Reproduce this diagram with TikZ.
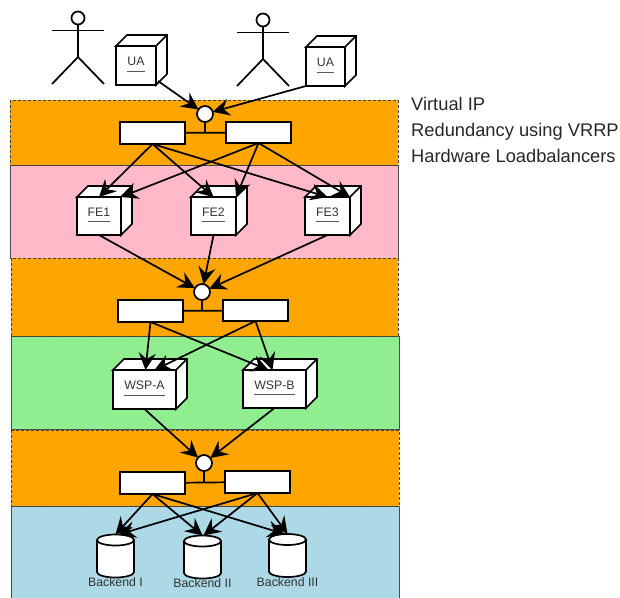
\documentclass[tikz,border=0pt]{standalone}
\usepackage{fontspec}
\setmainfont{Liberation Sans}
\usetikzlibrary{arrows.meta}
\definecolor{bandorange}{RGB}{255,165,0}
\definecolor{bandpink}{RGB}{255,185,200}
\definecolor{bandgreen}{RGB}{144,238,144}
\definecolor{bandblue}{RGB}{173,216,230}
\tikzset{
	solidband/.style={draw=black!70, line width=0.7pt},
	dashband/.style={draw=black!75, line width=0.8pt, dash pattern=on 3pt off 2pt},
	outline/.style={draw=black, line width=1.7pt, fill=white, line join=miter},
	flowbox/.style={outline, rectangle, inner sep=0pt, outer sep=0pt},
	vipdot/.style={outline, circle, inner sep=0pt, outer sep=0pt, minimum size=16pt},
	backenddb/.style={rectangle, inner sep=0pt, outer sep=0pt, minimum width=37pt, minimum height=43pt},
	link/.style={draw=black, line width=1.7pt},
	flow/.style={link, -{Stealth[length=17pt, width=17pt, inset=6pt]}},
	boxlabel/.style={font=\fontsize{12.3pt}{14pt}\selectfont, text=black!80, inner sep=0pt, anchor=base},
	sidenote/.style={font=\fontsize{18.3pt}{20pt}\selectfont, text=black!85, inner sep=0pt, anchor=base west},
}
\begin{document}
\begin{tikzpicture}[x=1pt, y=-1pt]
	\useasboundingbox (0,0) rectangle (620,597);
	% bands
	\draw[solidband, fill=bandpink] (10,165) rectangle (398,258);
	\draw[solidband, fill=bandgreen] (11,336) rectangle (399,429);
	\draw[solidband, fill=bandblue] (11,506) rectangle (399,600);
	\draw[dashband, fill=bandorange] (10,100) rectangle (398,165);
	\draw[dashband, fill=bandorange] (11,258) rectangle (398,336);
	\draw[dashband, fill=bandorange] (11,430) rectangle (399,506);
	% side text
	\node[sidenote] (noteone) at (411,110) {Virtual IP};
	\node[sidenote] (notetwo) at (411,136) {Redundancy using VRRP};
	\node[sidenote] (notethree) at (411,162) {Hardware Loadbalancers};
	% actors
	\foreach \who/\px/\py in {userone/78/18, usertwo/263/20} {
		\begin{scope}[shift={(\px,\py)}]
			\draw[link] (0,6.5) -- (0,39);
			\draw[link] (-26,12.5) -- (26,12.5);
			\draw[link] (-26,66) -- (0,39) -- (26,66);
			\node[vipdot, minimum size=13pt] (\who) at (0,0) {};
		\end{scope}
	}
	% cubes
	\foreach \name/\cx/\cy/\bw/\bh/\txt in {ua1/136/65.5/40/39/UA, ua2/325.5/66.5/39/39/UA, fe1/99/216/44/38/FE1, fe2/213.5/216/45/38/FE2, fe3/327.5/216/45/38/FE3, wspa/144.5/389.5/63/39/WSP-A, wspb/274.5/389/63/38/WSP-B} {
		\node[flowbox, minimum width=\bw pt, minimum height=\bh pt] (\name) at (\cx,\cy) {};
		\draw[outline] (\name.north west) -- ++(11,-11) -- ++(\bw,0) -- ++(0,\bh) -- (\name.south east) -- (\name.north east) -- cycle;
		\draw[link] (\name.north east) -- ++(11,-11);
		\node[boxlabel] (\name label) at (\name.center) {\txt};
		\draw[draw=black!65, line width=1pt] ([yshift=-5.5pt]\name label.base west) -- ([yshift=-5.5pt]\name label.base east);
	}
	% redundant pairs
	\node[vipdot] (vipa) at (205,114) {};
	\node[flowbox, minimum width=65pt, minimum height=22pt] (lba1) at (152.5,133) {};
	\node[flowbox, minimum width=65pt, minimum height=21pt] (lba2) at (258.5,132.5) {};
	\node[vipdot] (vipb) at (202,292) {};
	\node[flowbox, minimum width=65pt, minimum height=22pt] (lbb1) at (150.5,311) {};
	\node[flowbox, minimum width=65pt, minimum height=21pt] (lbb2) at (255.5,310.5) {};
	\node[vipdot] (vipc) at (204,463) {};
	\node[flowbox, minimum width=65pt, minimum height=22pt] (lbc1) at (152.5,483) {};
	\node[flowbox, minimum width=65pt, minimum height=22pt] (lbc2) at (257.5,482) {};
	\draw[link] (lba1) -- (lba2);
	\draw[link] (vipa) -- (vipa |- lba1);
	\draw[link] (lbb1) -- (lbb2);
	\draw[link] (vipb) -- (vipb |- lbb1);
	\draw[link] (lbc1) -- (lbc2);
	\draw[link] (vipc) -- (vipc |- lbc1);
	% backends
	\foreach \name/\cx/\cy/\txt in {db1/115.5/556/Backend I, db2/202.5/557/Backend II, db3/287.5/555.5/Backend III} {
		\node[backenddb] (\name) at (\cx,\cy) {};
		\draw[outline] ([yshift=-5.5pt]\name.north west) -- ([yshift=5.5pt]\name.south west)
			arc[start angle=180, end angle=360, x radius=18.5pt, y radius=5.5pt]
			-- ([yshift=-5.5pt]\name.north east)
			arc[start angle=0, end angle=180, x radius=18.5pt, y radius=5.5pt]
			arc[start angle=180, end angle=360, x radius=18.5pt, y radius=5.5pt];
		\node[boxlabel, anchor=north] (\name label) at ([yshift=-21.5pt]\name.center) {\txt};
	}
	% flows
	\draw[flow] ([xshift=2pt, yshift=4pt]ua1.south east) -- (vipa);
	\draw[flow] (ua2.south west) -- (vipa);
	\foreach \fe in {fe1, fe2, fe3} {
		\draw[flow] (lba1.south) -- (\fe.north);
		\draw[flow] (lba2.south) -- (\fe.north east);
		\draw[flow] (\fe.south) -- (vipb);
	}
	\draw[flow] (lbb1.south) -- ([xshift=1pt]wspa.north);
	\draw[flow] (lbb2.south) -- ([xshift=10pt]wspa.north);
	\draw[flow] (lbb1.south) -- ([xshift=-6pt]wspb.north);
	\draw[flow] (lbb2.south) -- ([xshift=-2pt]wspb.north);
	\draw[flow] (wspa.south) -- (vipc);
	\draw[flow] (wspb.south) -- (vipc);
	\draw[flow] (lbc1.south) -- (db1.north);
	\draw[flow] (lbc2.south) -- ([xshift=3pt]db1.north);
	\draw[flow] (lbc1.south) -- (db2.north);
	\draw[flow] (lbc2.south) -- ([xshift=1pt]db2.north);
	\draw[flow] (lbc1.south) -- ([xshift=-3pt]db3.north);
	\draw[flow] (lbc2.south) -- (db3.north);
\end{tikzpicture}
\end{document}
